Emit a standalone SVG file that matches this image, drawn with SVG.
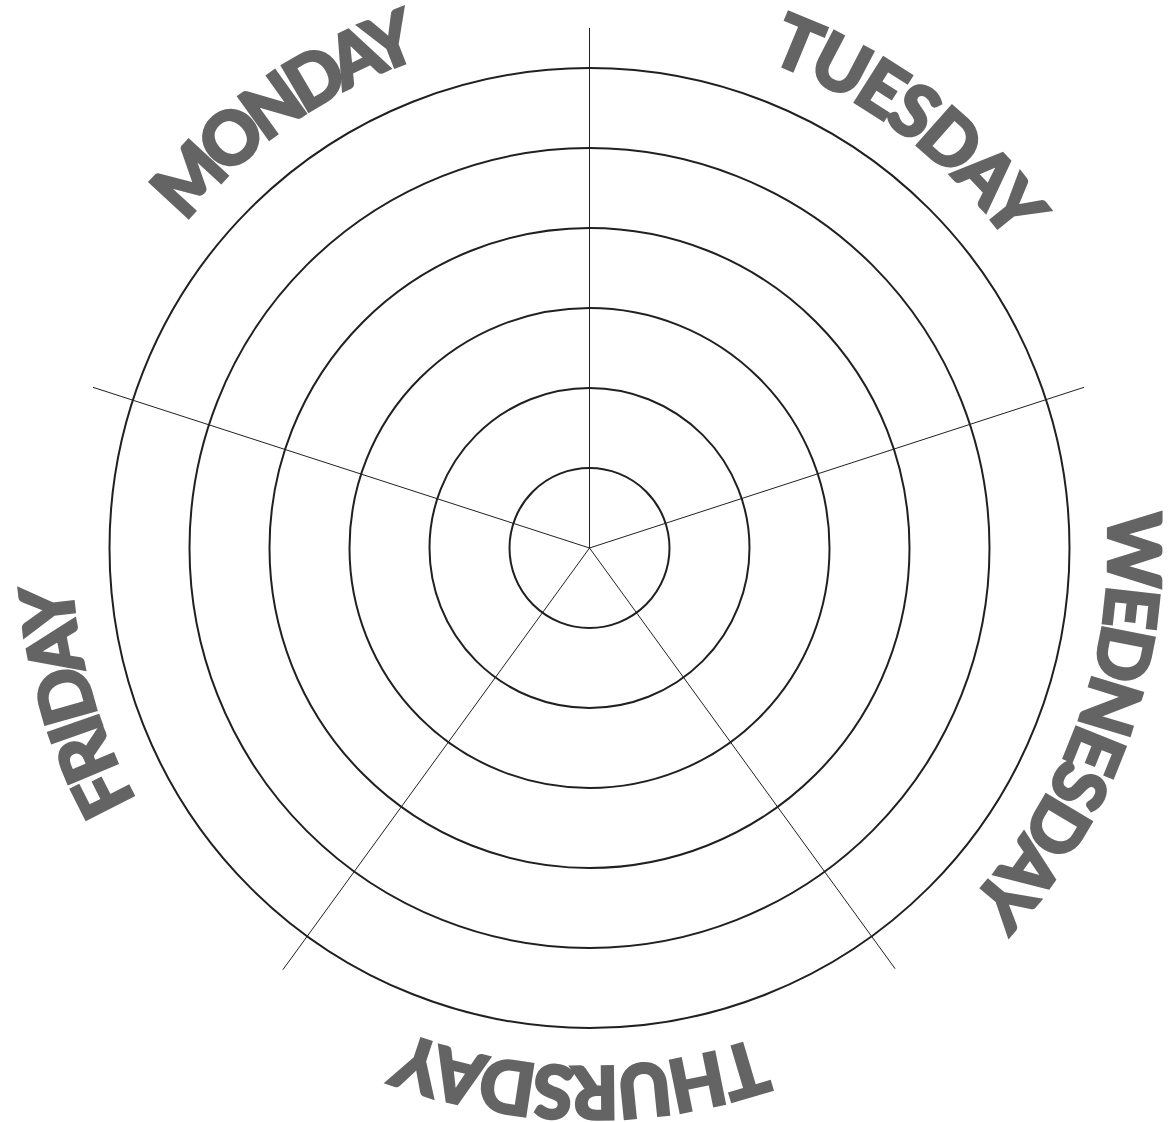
<svg xmlns="http://www.w3.org/2000/svg" xmlns:xlink="http://www.w3.org/1999/xlink" width="1175" height="1122" viewBox="0 0 1175 1122">
<style>
.ring{fill:none;stroke:#231f20;stroke-width:2}
.spoke{stroke:#231f20;stroke-width:1;fill:none}
.day{font-family:Lato,"Liberation Sans",sans-serif;font-weight:700;font-size:72px;fill:#646464;stroke:#646464;stroke-width:3.5;stroke-linejoin:miter}
</style>
<defs>
<path id="pMon" d="M72.5,593.2 A519,519 0 0 1 808.8,77.6"/>
<path id="pTue" d="M386.7,70.3 A519,519 0 0 1 1104.6,611.3"/>
<path id="pWed" d="M984.1,210.9 A519,519 0 0 1 684.1,1058.3"/>
<path id="pThu" d="M1034.4,815.3 A519,519 0 0 1 135.6,799.6"/>
<path id="pFri" d="M468.3,1052.7 A519,519 0 0 1 213.0,190.7"/>
</defs>
<rect width="1175" height="1122" fill="#ffffff"/>
<g id="rings">
<circle class="ring" cx="589.5" cy="548" r="80"/>
<circle class="ring" cx="589.5" cy="548" r="160"/>
<circle class="ring" cx="589.5" cy="548" r="240"/>
<circle class="ring" cx="589.5" cy="548" r="320"/>
<circle class="ring" cx="589.5" cy="548" r="400"/>
<circle class="ring" cx="589.5" cy="548" r="480"/>
</g>
<g id="connectors">
<line class="spoke" x1="589.5" y1="548" x2="589.5" y2="28"/>
<line class="spoke" x1="589.5" y1="548" x2="1084" y2="387.3"/>
<line class="spoke" x1="589.5" y1="548" x2="93" y2="387.3"/>
<line class="spoke" x1="589.5" y1="548" x2="895.1" y2="968.7"/>
<line class="spoke" x1="589.5" y1="548" x2="282.9" y2="969.7"/>
</g>
<g id="monday"><text class="day"><textPath xlink:href="#pMon" href="#pMon" startOffset="50%" text-anchor="middle" textLength="292" lengthAdjust="spacing">MONDAY</textPath></text></g>
<g id="tuesday"><text class="day"><textPath xlink:href="#pTue" href="#pTue" startOffset="50%" text-anchor="middle" textLength="306" lengthAdjust="spacing">TUESDAY</textPath></text></g>
<g id="wednesday"><text class="day"><textPath xlink:href="#pWed" href="#pWed" startOffset="50%" text-anchor="middle" textLength="425" lengthAdjust="spacing">WEDNESDAY</textPath></text></g>
<g id="thursday"><text class="day"><textPath xlink:href="#pThu" href="#pThu" startOffset="50%" text-anchor="middle" textLength="361" lengthAdjust="spacing">THURSDAY</textPath></text></g>
<g id="friday"><text class="day"><textPath xlink:href="#pFri" href="#pFri" startOffset="50%" text-anchor="middle" textLength="228" lengthAdjust="spacing">FRIDAY</textPath></text></g>
</svg>
